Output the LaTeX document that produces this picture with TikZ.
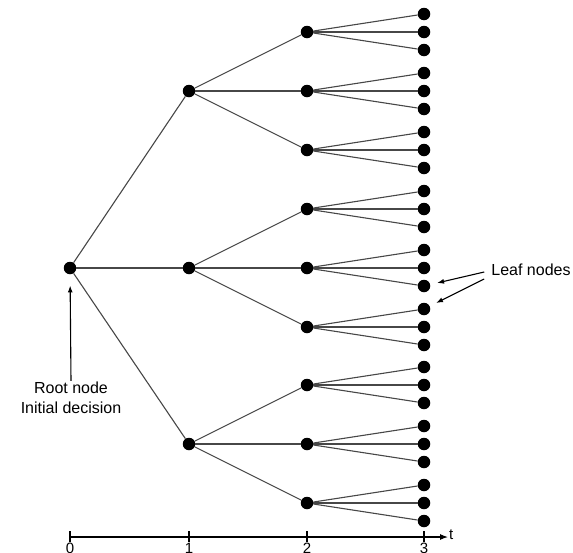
\documentclass[tikz,border=0pt]{standalone}
\usepackage{fontspec}
\setmainfont{Liberation Sans}
\usetikzlibrary{arrows.meta}
\begin{document}
\begin{tikzpicture}[x=1pt,y=-1pt,
 dot/.style={circle,fill=black,inner sep=0pt,minimum size=12.5pt},
 edge/.style={draw=black!72,line width=1.1pt},
 lbl/.style={font=\fontsize{16}{20}\selectfont,align=center,inner sep=1pt},
 tick/.style={font=\fontsize{15}{18}\selectfont,inner sep=1pt},
 pointer/.style={draw=black,line width=1.1pt,-{Latex[length=7pt,width=5pt]}}]
\useasboundingbox (0,0) rectangle (573,552);
\node[dot] (r) at (70,268) {};
\foreach \i/\yi in {1/91,2/268,3/444} {
 \node[dot] (a\i) at (189,\yi) {};
 \draw[edge] (r) -- (a\i);
 \foreach \j/\dj in {1/-59,2/0,3/59} {
   \node[dot] (b\i\j) at (307,\yi+\dj) {};
   \draw[edge] (a\i) -- (b\i\j);
   \foreach \k/\dk in {1/-18,2/0,3/18} {
     \node[dot] (c\i\j\k) at (424,\yi+\dj+\dk) {};
     \draw[edge] (b\i\j) -- (c\i\j\k);
   }
 }
}
% time axis
\coordinate (t0) at (70,537);
\coordinate (tend) at (448,537);
\draw[line width=1.1pt,-{Latex[length=8pt,width=6pt]}] (t0) -- (tend);
\node[tick,anchor=west] (tl) at (448,535) {t};
\foreach \n/\x in {0/70,1/189,2/307,3/424} {
 \coordinate (tk\n) at (\x,531);
 \coordinate (tb\n) at (\x,542);
 \draw[line width=1.1pt] (tk\n) -- (tb\n);
 \node[tick,anchor=north] (n\n) at (\x,542) {\n};
}
% labels
\node[lbl] (root) at (71,398) {Root node\\Initial decision};
\draw[pointer,shorten >=11pt] (root.north) -- (r);
\node[lbl] (leaf) at (531,270) {Leaf nodes};
\draw[pointer,shorten >=7pt] ([xshift=-6pt,yshift=-2pt]leaf.west) -- (c223);
\draw[pointer,shorten >=7pt] ([xshift=-6pt,yshift=-9pt]leaf.west) -- (c231);
\end{tikzpicture}
\end{document}
